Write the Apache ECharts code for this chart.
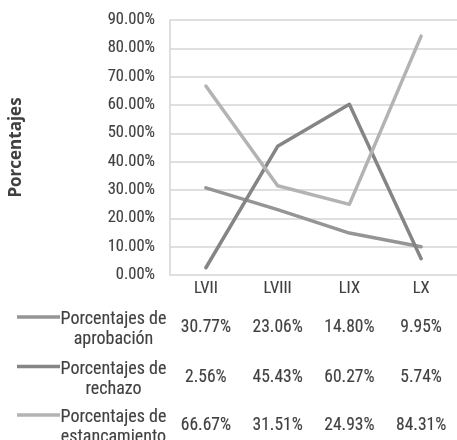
<!DOCTYPE html>
<html>
<head>
<meta charset="utf-8">
<script src="https://cdn.jsdelivr.net/npm/echarts@6/dist/echarts.min.js"></script>
<style>
  html, body { margin: 0; padding: 0; background: #ffffff; }
  #chart { width: 457px; height: 440px; }
</style>
</head>
<body>
<div id="chart"></div>
<script>
// Legislaturas
var categories = ['LVII', 'LVIII', 'LIX', 'LX'];

// Porcentajes por legislatura
var aprobacion    = [30.77, 23.06, 14.80, 9.95];
var rechazo       = [2.56, 45.43, 60.27, 5.74];
var estancamiento = [66.67, 31.51, 24.93, 84.31];

// Nombres de las filas de la tabla de datos
var seriesNames = [
  'Porcentajes de\naprobación',
  'Porcentajes de\nrechazo',
  'Porcentajes de\nestancamiento'
];

// Escala del eje vertical
var yMin = 0, yMax = 90, yStep = 10;

var seriesValues = [aprobacion, rechazo, estancamiento];
var colors = ['#959595', '#858585', '#b3b3b3'];

var FONT = "'Roboto Condensed', 'Roboto', sans-serif";
var TEXT = '#404040';
// a faint outline gives the condensed face a slightly fuller stroke
var OUTLINE = 0.12;

// Plot area
var gridLeft = 170, gridTop = 20, gridWidth = 291, gridHeight = 255;
var gridBottomY = gridTop + gridHeight;

// Data table rows below the category axis
var catLabelCenter = 14;            // category label centre below the axis
var rowOffsets = [39, 88.5, 137];   // each row's distance from the category labels

function pct(v) { return v.toFixed(2) + '%'; }

function labelStyle(size) {
  return {
    margin: 5, fontSize: size, fontFamily: FONT, color: TEXT, interval: 0,
    textBorderColor: TEXT, textBorderWidth: OUTLINE
  };
}

var xAxes = [{
  type: 'category',
  data: categories,
  boundaryGap: true,
  axisLine: { show: false },
  axisTick: { show: false },
  axisLabel: labelStyle(16.5)
}];
seriesValues.forEach(function (vals, i) {
  xAxes.push({
    type: 'category',
    data: vals.map(pct),
    position: 'bottom',
    offset: rowOffsets[i],
    boundaryGap: true,
    axisLine: { show: false },
    axisTick: { show: false },
    splitLine: { show: false },
    axisLabel: labelStyle(17.5)
  });
});

// Legend keys and row titles of the data table
var graphics = [];
seriesNames.forEach(function (name, i) {
  var cy = gridBottomY + catLabelCenter + rowOffsets[i] + 0.5;
  graphics.push({
    type: 'line',
    shape: { x1: 17, y1: cy - 11.5, x2: 60, y2: cy - 11.5 },
    style: { stroke: colors[i], lineWidth: 3.5 },
    silent: true
  });
  graphics.push({
    type: 'text',
    x: 113.5,
    y: cy + 1,
    style: {
      text: name,
      fontSize: 18,
      fontFamily: FONT,
      fill: TEXT,
      stroke: TEXT,
      lineWidth: OUTLINE,
      align: 'center',
      verticalAlign: 'middle',
      lineHeight: 20
    },
    silent: true
  });
});

var yLabel = labelStyle(16.5);
yLabel.margin = 15;
yLabel.formatter = function (v) { return pct(v); };
delete yLabel.interval;

var chart = echarts.init(document.getElementById('chart'), null, { renderer: 'canvas' });
chart.setOption({
  animation: false,
  backgroundColor: '#ffffff',
  grid: { left: gridLeft, top: gridTop, width: gridWidth, height: gridHeight, containLabel: false },
  xAxis: xAxes,
  yAxis: {
    type: 'value',
    min: yMin,
    max: yMax,
    interval: yStep,
    name: 'Porcentajes',
    nameLocation: 'middle',
    nameRotate: 90,
    nameGap: 145,
    nameTextStyle: { fontFamily: "'Open Sans', sans-serif", fontWeight: 'bold', fontSize: 17, color: TEXT },
    axisLine: { show: true, lineStyle: { color: '#d4d4d4', width: 1.5 } },
    axisTick: { show: false },
    splitLine: { show: true, lineStyle: { color: '#d4d4d4', width: 1.5 } },
    axisLabel: yLabel
  },
  series: seriesValues.map(function (vals, i) {
    return {
      name: seriesNames[i],
      type: 'line',
      xAxisIndex: 0,
      data: vals,
      symbol: 'none',
      lineStyle: { color: colors[i], width: 3.5, cap: 'round', join: 'round' },
      itemStyle: { color: colors[i] }
    };
  }),
  graphic: graphics
});
</script>
</body>
</html>
